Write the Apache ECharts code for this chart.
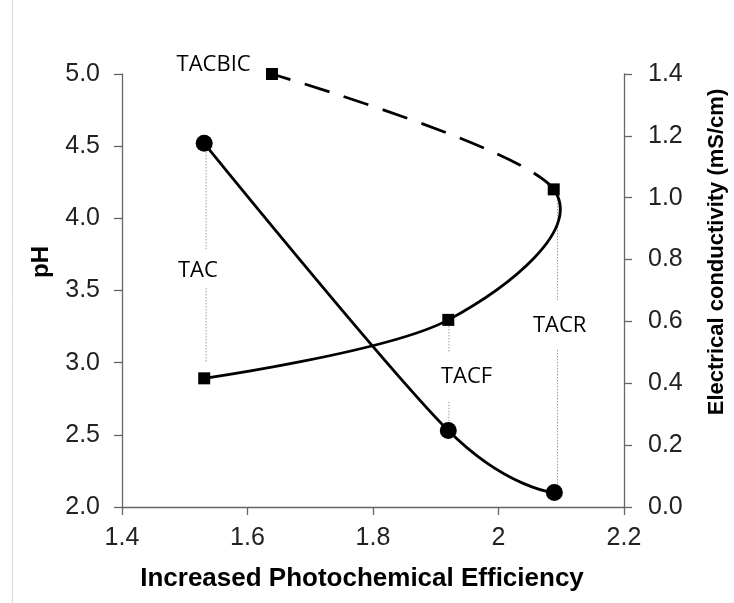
<!DOCTYPE html>
<html>
<head>
<meta charset="utf-8">
<script src="https://cdn.jsdelivr.net/npm/echarts@6/dist/echarts.min.js"></script>
<style>
  html, body { margin: 0; padding: 0; background: #fff; }
  #chart { width: 734px; height: 603px; }
</style>
</head>
<body>
<div id="chart"></div>
<script>
// pH (left axis) against increased photochemical efficiency
const phX = [1.531, 1.920, 2.089];
const phY = [4.52, 2.53, 2.10];

// Electrical conductivity (right axis), same treatments in path order
const ecX = [1.531, 1.920, 2.088, 1.639];
const ecY = [0.416, 0.605, 1.027, 1.40];
// segments of the conductivity curve drawn dashed (by segment index)
const ecDashed = [2];

// Axis ticks
const xTickLabels = ['1.4', '1.6', '1.8', '2', '2.2'];
const phTickLabels = ['2.0', '2.5', '3.0', '3.5', '4.0', '4.5', '5.0'];
const ecTickLabels = ['0.0', '0.2', '0.4', '0.6', '0.8', '1.0', '1.2', '1.4'];

// Treatment names, placed at (efficiency, pH)
const labelNames = ['TACBIC', 'TAC', 'TACF', 'TACR'];
const labelX = [1.546, 1.521, 1.949, 2.0975];
const labelY = [5.062, 3.635, 2.901, 3.254];

// Dotted guide segments: efficiency, pH from, pH to
const guideX = [1.534, 1.534, 1.921, 1.921, 2.094, 2.094];
const guideFrom = [4.522, 3.517, 3.296, 2.729, 4.148, 3.088];
const guideTo = [3.787, 2.998, 3.069, 2.527, 3.434, 2.104];

const tickFont = '"Liberation Sans", Arial, sans-serif';
const noteFont = '"Open Sans", sans-serif';

// Smooth curve through points: cubic Béziers with Catmull-Rom style tangents,
// flat (zero) tangents at both ends.
function smoothSegments(pts) {
  const n = pts.length;
  const tan = pts.map((p, i) => {
    if (i === 0 || i === n - 1) return [0, 0];
    return [(pts[i + 1][0] - pts[i - 1][0]) / 6, (pts[i + 1][1] - pts[i - 1][1]) / 6];
  });
  const segs = [];
  for (let i = 0; i < n - 1; i++) {
    segs.push({
      x1: pts[i][0], y1: pts[i][1],
      cpx1: pts[i][0] + tan[i][0], cpy1: pts[i][1] + tan[i][1],
      cpx2: pts[i + 1][0] - tan[i + 1][0], cpy2: pts[i + 1][1] - tan[i + 1][1],
      x2: pts[i + 1][0], y2: pts[i + 1][1]
    });
  }
  return segs;
}

function curveRenderer(xs, ys, dashed) {
  return function (params, api) {
    if (params.dataIndex !== 0) return null;
    const pts = xs.map((x, i) => api.coord([x, ys[i]]));
    const segs = smoothSegments(pts);
    return {
      type: 'group',
      children: segs.map((s, i) => ({
        type: 'bezierCurve',
        shape: s,
        style: {
          stroke: '#000',
          fill: null,
          lineWidth: 2.8,
          lineDash: dashed.indexOf(i) >= 0 ? [26, 15] : null
        }
      }))
    };
  };
}

const chart = echarts.init(document.getElementById('chart'), null, { renderer: 'canvas' });

const axisLineStyle = { color: '#666', width: 1.3 };

const option = {
  backgroundColor: '#fff',
  animation: false,
  grid: { left: 122, right: 110, top: 74, bottom: 96, containLabel: false },
  xAxis: {
    type: 'value', min: 1.4, max: 2.2, interval: 0.2,
    axisLine: { show: true, onZero: false, lineStyle: axisLineStyle },
    axisTick: { show: true, inside: false, length: 8, lineStyle: axisLineStyle },
    splitLine: { show: false },
    axisLabel: {
      margin: 19, fontSize: 25, color: '#222', fontFamily: tickFont,
      formatter: (v, i) => xTickLabels[i]
    }
  },
  yAxis: [
    {
      type: 'value', position: 'left', min: 2, max: 5, interval: 0.5,
      axisLine: { show: true, lineStyle: axisLineStyle },
      axisTick: { show: true, inside: false, length: 8, lineStyle: axisLineStyle },
      splitLine: { show: false },
      axisLabel: {
        margin: 22, fontSize: 25, color: '#222', fontFamily: tickFont,
        formatter: (v, i) => phTickLabels[i]
      }
    },
    {
      type: 'value', position: 'right', min: 0, max: 1.4, interval: 0.2,
      axisLine: { show: true, lineStyle: axisLineStyle },
      axisTick: { show: true, inside: false, length: 8, lineStyle: axisLineStyle },
      splitLine: { show: false },
      axisLabel: {
        margin: 24, fontSize: 25, color: '#222', fontFamily: tickFont,
        formatter: (v, i) => ecTickLabels[i]
      }
    }
  ],
  graphic: [
    { type: 'line', shape: { x1: 12.5, y1: 0, x2: 12.5, y2: 603 }, style: { stroke: '#d9d9d9', lineWidth: 1 }, silent: true },
    {
      type: 'text', x: 362, y: 579,
      style: { text: 'Increased Photochemical Efficiency', fontSize: 26, fontWeight: 'bold',
               fontFamily: tickFont, fill: '#000', align: 'center', verticalAlign: 'middle' }
    },
    {
      type: 'text', x: 41, y: 262, rotation: Math.PI / 2,
      style: { text: 'pH', fontSize: 24, fontWeight: 'bold',
               fontFamily: tickFont, fill: '#000', align: 'center', verticalAlign: 'middle' }
    },
    {
      type: 'text', x: 717, y: 252, rotation: Math.PI / 2,
      style: { text: 'Electrical conductivity (mS/cm)', fontSize: 22, fontWeight: 'bold',
               fontFamily: tickFont, fill: '#000', align: 'center', verticalAlign: 'middle' }
    }
  ],
  series: [
    {
      name: 'guides', type: 'custom', yAxisIndex: 0, z: 1, silent: true,
      data: guideX.map((x, i) => [x, guideFrom[i], guideTo[i]]),
      encode: { x: 0, y: [1, 2] },
      renderItem: function (params, api) {
        const a = api.coord([api.value(0), api.value(1)]);
        const b = api.coord([api.value(0), api.value(2)]);
        return {
          type: 'line',
          shape: { x1: a[0], y1: a[1], x2: b[0], y2: b[1] },
          style: { stroke: '#9a9a9a', lineWidth: 1, lineDash: [1.5, 1.5] }
        };
      }
    },
    {
      name: 'pH curve', type: 'custom', yAxisIndex: 0, z: 2, silent: true,
      data: phX.map((x, i) => [x, phY[i]]),
      renderItem: curveRenderer(phX, phY, [])
    },
    {
      name: 'EC curve', type: 'custom', yAxisIndex: 1, z: 2, silent: true,
      data: ecX.map((x, i) => [x, ecY[i]]),
      renderItem: curveRenderer(ecX, ecY, ecDashed)
    },
    {
      name: 'pH', type: 'scatter', yAxisIndex: 0, z: 3,
      symbol: 'circle', symbolSize: 17,
      itemStyle: { color: '#000', opacity: 1 },
      data: phX.map((x, i) => [x, phY[i]])
    },
    {
      name: 'EC', type: 'scatter', yAxisIndex: 1, z: 3,
      symbol: 'rect', symbolSize: 12,
      itemStyle: { color: '#000', opacity: 1 },
      data: ecX.map((x, i) => [x, ecY[i]])
    },
    {
      name: 'treatments', type: 'scatter', yAxisIndex: 0, z: 4, clip: false, silent: true,
      symbolSize: 1,
      itemStyle: { color: 'rgba(0,0,0,0)', opacity: 1 },
      data: labelX.map((x, i) => [x, labelY[i]]),
      label: {
        show: true, position: 'inside',
        formatter: p => labelNames[p.dataIndex],
        fontFamily: noteFont, fontSize: 22, color: '#000'
      }
    }
  ]
};

chart.setOption(option);
</script>
</body>
</html>
